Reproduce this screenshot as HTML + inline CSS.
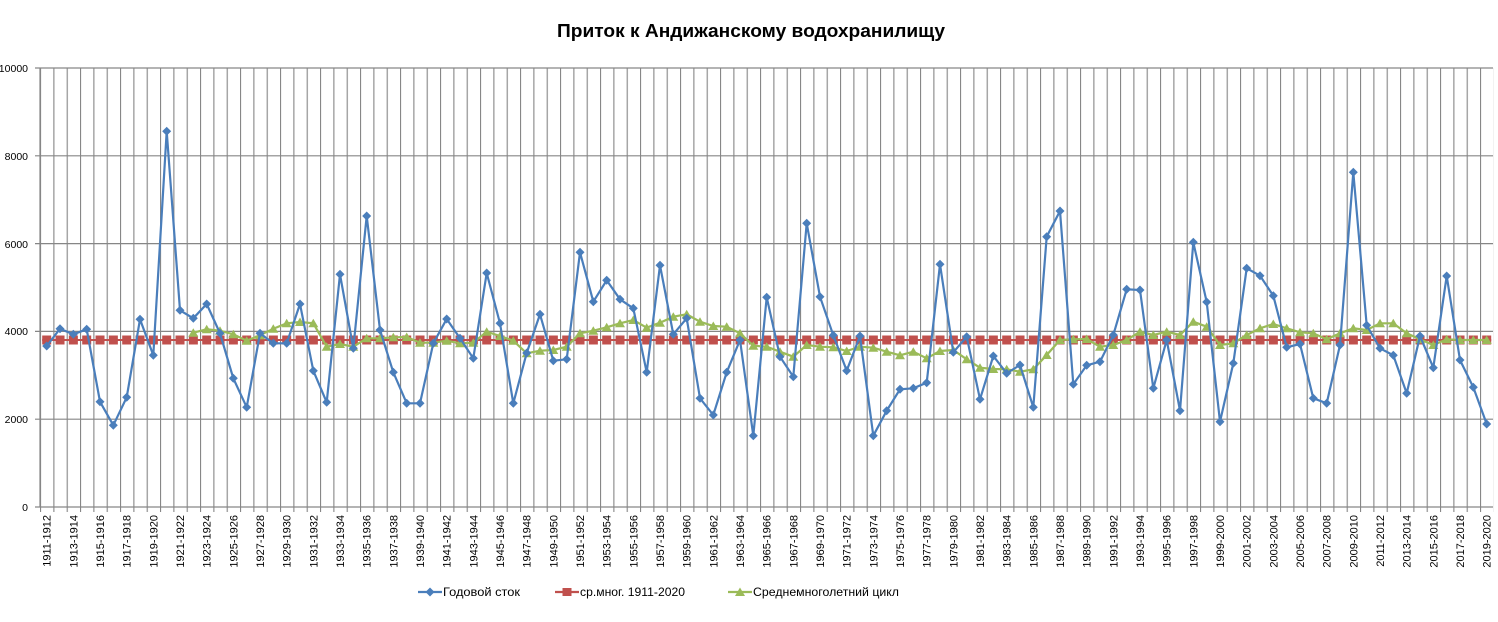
<!DOCTYPE html>
<html><head><meta charset="utf-8"><style>
html,body{margin:0;padding:0;background:#fff;}
svg{display:block;font-family:"Liberation Sans",sans-serif;}
</style></head><body>
<svg width="1498" height="622" viewBox="0 0 1498 622" xmlns="http://www.w3.org/2000/svg">
<defs>
<pattern id="vg" patternUnits="userSpaceOnUse" x="40" y="0" width="13.3333" height="622">
<line x1="0.5" y1="0" x2="0.5" y2="622" stroke="#868686" stroke-width="1.2"/>
</pattern>
<marker id="dm" markerUnits="userSpaceOnUse" markerWidth="12" markerHeight="12" refX="6" refY="6" overflow="visible">
<path d="M6 1.5 L10.5 6 L6 10.5 L1.5 6Z" fill="#4a7ebb"/>
</marker>
<marker id="tm" markerUnits="userSpaceOnUse" markerWidth="12" markerHeight="12" refX="6" refY="6" overflow="visible">
<path d="M6 1.5 L11 10 L1 10Z" fill="#9bbb59"/>
</marker>
</defs>
<text x="751" y="37" text-anchor="middle" font-size="18.5" font-weight="bold" fill="#000" textLength="388" lengthAdjust="spacingAndGlyphs">Приток к Андижанскому водохранилищу</text>
<rect x="40" y="68" width="1453.3" height="439" fill="url(#vg)"/>
<g stroke="#868686" stroke-width="1.2">
<line x1="35" y1="68" x2="1493" y2="68"/>
<line x1="35" y1="155.8" x2="1493" y2="155.8"/>
<line x1="35" y1="243.6" x2="1493" y2="243.6"/>
<line x1="35" y1="331.4" x2="1493" y2="331.4"/>
<line x1="35" y1="419.2" x2="1493" y2="419.2"/>
<line x1="35" y1="507" x2="1493" y2="507"/>
<line x1="40" y1="68" x2="40" y2="507"/>
</g>
<rect x="40" y="507" width="1453.3" height="5" fill="url(#vg)"/>
<g font-size="10.5" text-anchor="end" fill="#000">
<text x="28" y="72">10000</text><text x="28" y="160">8000</text><text x="28" y="248">6000</text><text x="28" y="335">4000</text><text x="28" y="423">2000</text><text x="28" y="511">0</text>
</g>
<line x1="42.2" y1="340" x2="1491.2" y2="340" stroke="#c0504d" stroke-width="2"/>
<line x1="42.2" y1="340" x2="1491.2" y2="340" stroke="#c0504d" stroke-width="9" stroke-dasharray="9 4.3333"/>
<polyline fill="none" stroke="#9bbb59" stroke-width="2.2" marker-start="url(#tm)" marker-mid="url(#tm)" marker-end="url(#tm)" points="193.3,332.7 206.7,329.3 220,330.7 233.3,334.3 246.7,340.7 260,335.3 273.3,328.7 286.7,323.3 300,322 313.3,323.3 326.7,346.7 340,344 353.3,346.7 366.7,338.3 380,338.3 393.3,337.3 406.7,337 420,342.7 433.3,342.7 446.7,340.7 460,343.3 473.3,342.7 486.7,331.7 500,336 513.3,340.7 526.7,353.3 540,350.7 553.3,350 566.7,346.7 580,333.3 593.3,330.7 606.7,327.3 620,323.3 633.3,320 646.7,327.7 660,322.7 673.3,316.7 686.7,314.3 700,321.7 713.3,326 726.7,326.7 740,333.3 753.3,345.7 766.7,346.7 780,351.7 793.3,356.7 806.7,345 820,346.7 833.3,347.3 846.7,351 860,346.7 873.3,347.7 886.7,351.7 900,355.3 913.3,351.7 926.7,358.3 940,351 953.3,350 966.7,359.3 980,367.7 993.3,369 1006.7,369.3 1020,371.7 1033.3,369.3 1046.7,355 1060,340 1073.3,339.3 1086.7,339 1100,346.7 1113.3,345 1126.7,340 1140,331.7 1153.3,335 1166.7,331.7 1180,335 1193.3,321.7 1206.7,326.7 1220,345 1233.3,343.3 1246.7,335 1260,328.3 1273.3,324 1286.7,328.3 1300,332.3 1313.3,333.3 1326.7,339.3 1340,333.3 1353.3,328.3 1366.7,330 1380,323.3 1393.3,323.3 1406.7,333.3 1420,339.3 1433.3,345 1446.7,339.3 1460,340 1473.3,340 1486.7,340"/>
<polyline fill="none" stroke="#4a7ebb" stroke-width="2.2" marker-start="url(#dm)" marker-mid="url(#dm)" marker-end="url(#dm)" points="46.7,346 60,328.7 73.3,334.3 86.7,329.3 100,401.7 113.3,425.3 126.7,397.3 140,319.3 153.3,355.3 166.7,131.3 180,310.3 193.3,318.3 206.7,304 220,333.3 233.3,378.3 246.7,407.3 260,333.3 273.3,343.3 286.7,343.3 300,304 313.3,370.7 326.7,402.3 340,274.3 353.3,348.3 366.7,216 380,330 393.3,372.3 406.7,403.3 420,403.3 433.3,343.3 446.7,319 460,338.3 473.3,358.3 486.7,273 500,323.3 513.3,403.3 526.7,353 540,314.3 553.3,360.7 566.7,359.3 580,252.3 593.3,301.7 606.7,280.3 620,299.3 633.3,308.3 646.7,372.3 660,265.3 673.3,334.3 686.7,318.3 700,398.3 713.3,415 726.7,372.3 740,340 753.3,435.7 766.7,297.3 780,356.7 793.3,376.7 806.7,223.3 820,296.7 833.3,335.3 846.7,370.7 860,336 873.3,435.7 886.7,410.7 900,389.3 913.3,388.3 926.7,382.7 940,264.3 953.3,352.3 966.7,336.7 980,399.3 993.3,356 1006.7,373.3 1020,365 1033.3,407.3 1046.7,236.7 1060,211 1073.3,384.3 1086.7,365.3 1100,361.7 1113.3,335 1126.7,289.3 1140,290 1153.3,388.3 1166.7,340 1180,410.7 1193.3,242.3 1206.7,302 1220,421.7 1233.3,363.3 1246.7,268.3 1260,275.7 1273.3,295.7 1286.7,347.3 1300,344 1313.3,398.3 1326.7,403.3 1340,345 1353.3,172.3 1366.7,325.3 1380,348.3 1393.3,355.3 1406.7,393.3 1420,336 1433.3,367.7 1446.7,276 1460,360 1473.3,387.3 1486.7,424"/>
<g font-size="11" text-anchor="end" fill="#000">
<text transform="translate(50.7,515) rotate(-90)">1911-1912</text>
<text transform="translate(77.3,515) rotate(-90)">1913-1914</text>
<text transform="translate(104,515) rotate(-90)">1915-1916</text>
<text transform="translate(130.7,515) rotate(-90)">1917-1918</text>
<text transform="translate(157.3,515) rotate(-90)">1919-1920</text>
<text transform="translate(184,515) rotate(-90)">1921-1922</text>
<text transform="translate(210.7,515) rotate(-90)">1923-1924</text>
<text transform="translate(237.3,515) rotate(-90)">1925-1926</text>
<text transform="translate(264,515) rotate(-90)">1927-1928</text>
<text transform="translate(290.7,515) rotate(-90)">1929-1930</text>
<text transform="translate(317.3,515) rotate(-90)">1931-1932</text>
<text transform="translate(344,515) rotate(-90)">1933-1934</text>
<text transform="translate(370.7,515) rotate(-90)">1935-1936</text>
<text transform="translate(397.3,515) rotate(-90)">1937-1938</text>
<text transform="translate(424,515) rotate(-90)">1939-1940</text>
<text transform="translate(450.7,515) rotate(-90)">1941-1942</text>
<text transform="translate(477.3,515) rotate(-90)">1943-1944</text>
<text transform="translate(504,515) rotate(-90)">1945-1946</text>
<text transform="translate(530.7,515) rotate(-90)">1947-1948</text>
<text transform="translate(557.3,515) rotate(-90)">1949-1950</text>
<text transform="translate(584,515) rotate(-90)">1951-1952</text>
<text transform="translate(610.7,515) rotate(-90)">1953-1954</text>
<text transform="translate(637.3,515) rotate(-90)">1955-1956</text>
<text transform="translate(664,515) rotate(-90)">1957-1958</text>
<text transform="translate(690.7,515) rotate(-90)">1959-1960</text>
<text transform="translate(717.3,515) rotate(-90)">1961-1962</text>
<text transform="translate(744,515) rotate(-90)">1963-1964</text>
<text transform="translate(770.7,515) rotate(-90)">1965-1966</text>
<text transform="translate(797.3,515) rotate(-90)">1967-1968</text>
<text transform="translate(824,515) rotate(-90)">1969-1970</text>
<text transform="translate(850.7,515) rotate(-90)">1971-1972</text>
<text transform="translate(877.3,515) rotate(-90)">1973-1974</text>
<text transform="translate(904,515) rotate(-90)">1975-1976</text>
<text transform="translate(930.7,515) rotate(-90)">1977-1978</text>
<text transform="translate(957.3,515) rotate(-90)">1979-1980</text>
<text transform="translate(984,515) rotate(-90)">1981-1982</text>
<text transform="translate(1010.7,515) rotate(-90)">1983-1984</text>
<text transform="translate(1037.3,515) rotate(-90)">1985-1986</text>
<text transform="translate(1064,515) rotate(-90)">1987-1988</text>
<text transform="translate(1090.7,515) rotate(-90)">1989-1990</text>
<text transform="translate(1117.3,515) rotate(-90)">1991-1992</text>
<text transform="translate(1144,515) rotate(-90)">1993-1994</text>
<text transform="translate(1170.7,515) rotate(-90)">1995-1996</text>
<text transform="translate(1197.3,515) rotate(-90)">1997-1998</text>
<text transform="translate(1224,515) rotate(-90)">1999-2000</text>
<text transform="translate(1250.7,515) rotate(-90)">2001-2002</text>
<text transform="translate(1277.3,515) rotate(-90)">2003-2004</text>
<text transform="translate(1304,515) rotate(-90)">2005-2006</text>
<text transform="translate(1330.7,515) rotate(-90)">2007-2008</text>
<text transform="translate(1357.3,515) rotate(-90)">2009-2010</text>
<text transform="translate(1384,515) rotate(-90)">2011-2012</text>
<text transform="translate(1410.7,515) rotate(-90)">2013-2014</text>
<text transform="translate(1437.3,515) rotate(-90)">2015-2016</text>
<text transform="translate(1464,515) rotate(-90)">2017-2018</text>
<text transform="translate(1490.7,515) rotate(-90)">2019-2020</text>
</g>
<g font-size="12" fill="#000">
<line x1="418" y1="592" x2="442" y2="592" stroke="#4a7ebb" stroke-width="2.2"/>
<path d="M430 587.5 L434.5 592 L430 596.5 L425.5 592Z" fill="#4a7ebb"/>
<text x="443" y="596" textLength="77" lengthAdjust="spacingAndGlyphs">Годовой  сток</text>
<line x1="555" y1="592" x2="579" y2="592" stroke="#c0504d" stroke-width="2.2"/>
<rect x="562.5" y="588" width="9" height="8" fill="#c0504d"/>
<text x="580" y="596" textLength="105" lengthAdjust="spacingAndGlyphs">ср.мног.  1911-2020</text>
<line x1="728" y1="592" x2="752" y2="592" stroke="#9bbb59" stroke-width="2.2"/>
<path d="M740 587.5 L745 596 L735 596Z" fill="#9bbb59"/>
<text x="753" y="596" textLength="146" lengthAdjust="spacingAndGlyphs">Среднемноголетний   цикл</text>
</g>
</svg>
</body></html>
